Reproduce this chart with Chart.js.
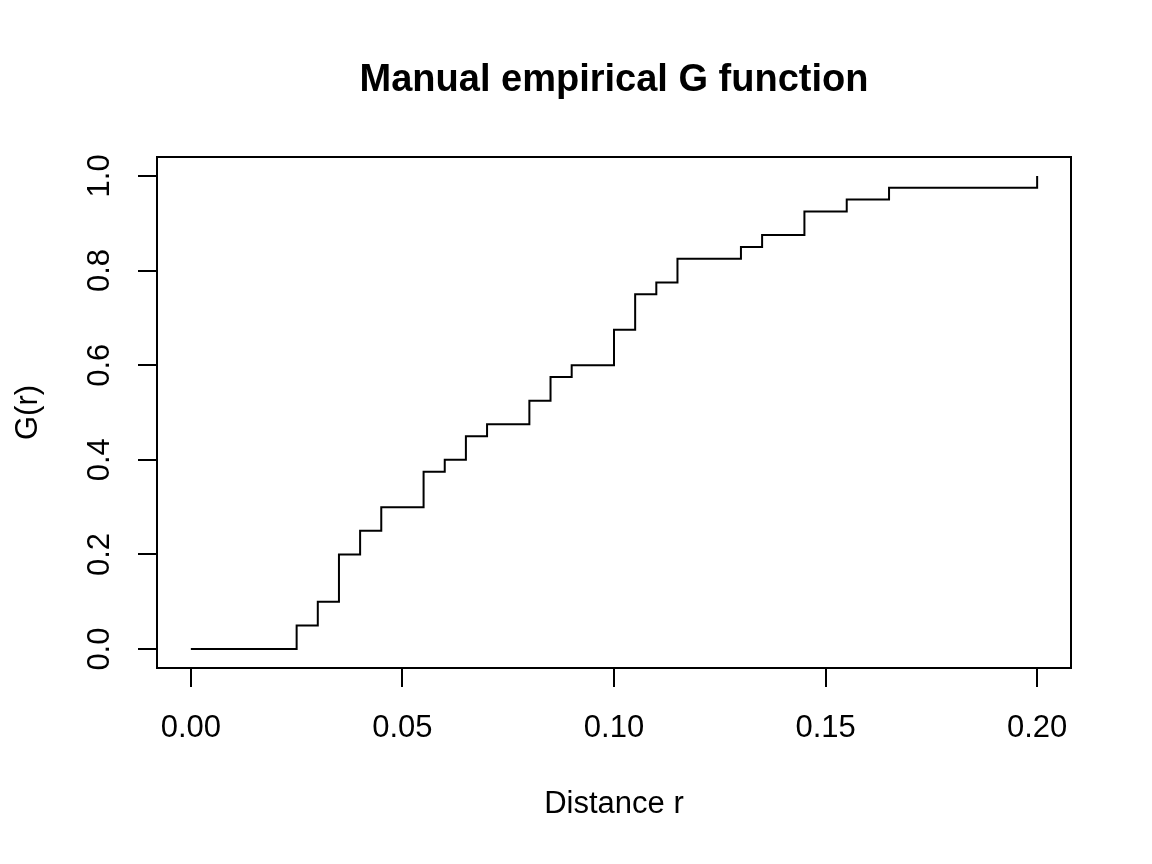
<!DOCTYPE html>
<html>
<head>
<meta charset="utf-8">
<title>Manual empirical G function</title>
<script src="https://cdn.jsdelivr.net/npm/chart.js@4/dist/chart.umd.min.js"></script>
<style>
  html, body { margin: 0; padding: 0; background: #fff; }
  #wrap { width: 1152px; height: 864px; }
</style>
</head>
<body>
<div id="wrap"><canvas id="graficoG"></canvas></div>
<script>
// distances where G jumps, and the value of G after each jump
const rValues = [0, 0.025, 0.03, 0.035, 0.04, 0.045, 0.055, 0.06, 0.065, 0.07, 0.08,
                 0.085, 0.09, 0.1, 0.105, 0.11, 0.115, 0.13, 0.135, 0.145, 0.155, 0.165, 0.2];
const gValues = [0, 0.05, 0.1, 0.2, 0.25, 0.3, 0.375, 0.4, 0.45, 0.475, 0.525,
                 0.575, 0.6, 0.675, 0.75, 0.775, 0.825, 0.85, 0.875, 0.925, 0.95, 0.975, 1.0];

const xTicks = [0, 0.05, 0.1, 0.15, 0.2];
const yTicks = [0, 0.2, 0.4, 0.6, 0.8, 1.0];

const titulo = 'Manual empirical G function';
const fonte = '"Liberation Sans", Arial, sans-serif';

const pontos = rValues.map((r, i) => ({ x: r, y: gValues[i] }));

// caixa, titulo e rótulos do eixo y (rodados como no R)
const estiloR = {
    id: 'estiloR',
    afterDraw(chart) {
        const { ctx, chartArea: a } = chart;
        ctx.save();
        ctx.strokeStyle = '#000';
        ctx.lineWidth = 2;
        ctx.strokeRect(a.left, a.top, a.right - a.left, a.bottom - a.top);

        ctx.fillStyle = '#000';
        ctx.font = 'bold 38px ' + fonte;
        ctx.textAlign = 'center';
        ctx.textBaseline = 'middle';
        ctx.fillText(titulo, (a.left + a.right) / 2, 81);

        const y = chart.scales.y;
        ctx.font = '31px ' + fonte;
        y.ticks.forEach(t => {
            ctx.save();
            ctx.translate(100, y.getPixelForValue(t.value));
            ctx.rotate(-Math.PI / 2);
            ctx.fillText(t.value.toFixed(1), 0, 0);
            ctx.restore();
        });
        ctx.restore();
    }
};

new Chart(document.getElementById('graficoG'), {
    type: 'line',
    data: {
        datasets: [{
            data: pontos,
            stepped: true,
            borderColor: '#000',
            borderWidth: 2,
            pointRadius: 0,
            fill: false
        }]
    },
    options: {
        responsive: true,
        maintainAspectRatio: false,
        animation: false,
        layout: { padding: { left: 10, right: 81, top: 157, bottom: 41 } },
        plugins: {
            legend: { display: false },
            tooltip: { enabled: false }
        },
        scales: {
            x: {
                type: 'linear',
                min: -0.008,
                max: 0.208,
                afterBuildTicks: s => { s.ticks = xTicks.map(v => ({ value: v })); },
                afterFit: s => { s.height = 864 - 668 - 41; },
                border: { display: false },
                grid: { drawOnChartArea: false, drawTicks: true, tickLength: 19, color: '#000', lineWidth: 2 },
                ticks: {
                    color: '#000',
                    font: { family: fonte, size: 31 },
                    padding: 23,
                    maxRotation: 0,
                    autoSkip: false,
                    callback: v => v.toFixed(2)
                },
                title: {
                    display: true,
                    text: 'Distance r',
                    color: '#000',
                    font: { family: fonte, size: 31, lineHeight: 1.2 },
                    padding: 0
                }
            },
            y: {
                type: 'linear',
                min: -0.04,
                max: 1.04,
                afterBuildTicks: s => { s.ticks = yTicks.map(v => ({ value: v })); },
                afterFit: s => { s.width = 157 - 10; },
                border: { display: false },
                grid: { drawOnChartArea: false, drawTicks: true, tickLength: 19, color: '#000', lineWidth: 2 },
                ticks: { display: false },
                title: {
                    display: true,
                    text: 'G(r)',
                    color: '#000',
                    font: { family: fonte, size: 31, lineHeight: 1.2 },
                    padding: 0
                }
            }
        }
    },
    plugins: [estiloR]
});
</script>
</body>
</html>
